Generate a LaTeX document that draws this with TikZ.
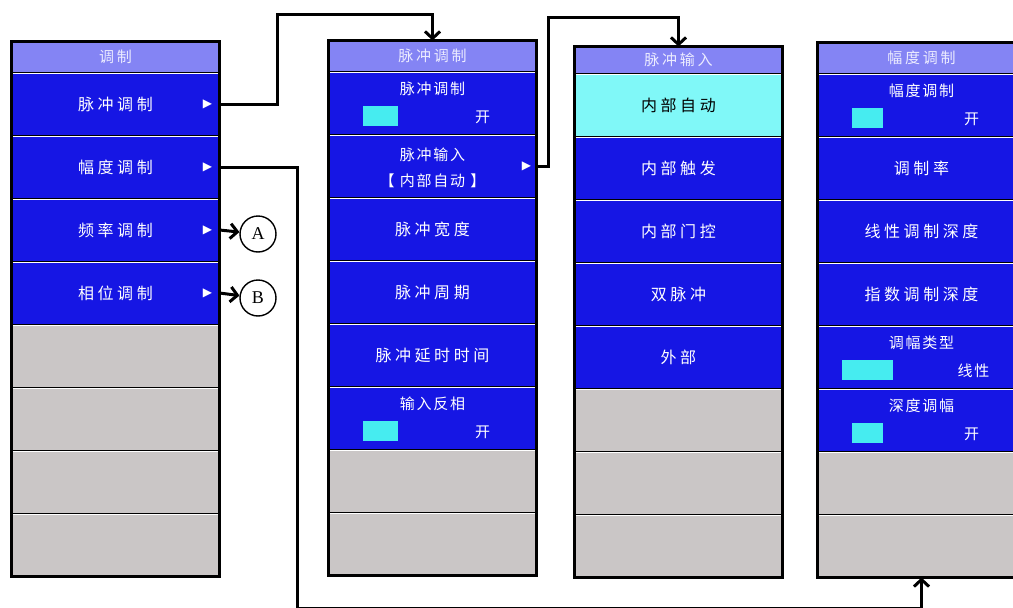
\documentclass[tikz,border=0pt]{standalone}
\usepackage{fontspec}
\usepackage{tikz}
\usetikzlibrary{positioning,arrows.meta}
\newfontfamily\cjk[LetterSpace=22]{Noto Sans CJK SC}
\newfontfamily\cjksub[LetterSpace=12]{Noto Sans CJK SC}
\newfontfamily\cjkhd[LetterSpace=18]{Noto Sans CJK SC}
\newfontfamily\symf{DejaVu Sans}
\newfontfamily\lettf{Liberation Serif}
\definecolor{btnblue}{RGB}{22,22,228}
\definecolor{hdrblue}{RGB}{132,132,244}
\definecolor{hdrtext}{RGB}{236,236,255}
\definecolor{btngray}{RGB}{202,198,198}
\definecolor{selcyan}{RGB}{128,248,248}
\definecolor{togcyan}{RGB}{70,236,240}

\tikzset{
  hdr/.style={rectangle, fill=hdrblue, minimum width=208pt, minimum height=31pt, inner sep=0pt, outer sep=0pt, text=hdrtext, font=\cjkhd\fontsize{15}{15}\selectfont},
  btn/.style={rectangle, fill=btnblue, draw=black, line width=1pt, minimum width=208pt, minimum height=63pt, inner sep=0pt, outer sep=0pt, text=white, font=\cjk\fontsize{16}{16}\selectfont,
    path picture={\draw[white, line width=3pt] (path picture bounding box.north west) -- (path picture bounding box.north east);}},
  graybtn/.style={btn, fill=btngray},
  selbtn/.style={btn, fill=selcyan, text=black},
  sub/.style={text=white, inner sep=0pt, font=\cjksub\fontsize{15}{15}\selectfont},
  tog/.style={rectangle, fill=togcyan, minimum width=31pt, minimum height=20pt, inner sep=0pt},
  tri/.style={text=white, inner sep=0pt, font=\symf\fontsize{12}{12}\selectfont},
  frame/.style={draw=black, line width=3.5pt},
  letter/.style={circle, draw=black, line width=1.4pt, minimum size=36pt, inner sep=0pt, font=\lettf\fontsize{18}{18}\selectfont},
  link/.style={draw=black, line width=3pt}
}

\begin{document}
\begin{tikzpicture}[x=1pt, y=-1pt, node distance=0pt, >={Straight Barb[length=7pt,width=15pt]}]
  \useasboundingbox (0,0) rectangle (1013,608);

  % menu 1
  \node (h1) [hdr] at (115.5,57) {调制};
  \node (pm1) [btn, below=of h1] {脉冲调制};
  \node (am1) [btn, below=of pm1] {幅度调制};
  \node (fm1) [btn, below=of am1] {频率调制};
  \node (ph1) [btn, below=of fm1] {相位调制};
  \node (g1a) [graybtn, below=of ph1] {};
  \node (g1b) [graybtn, below=of g1a] {};
  \node (g1c) [graybtn, below=of g1b] {};
  \node (g1d) [graybtn, below=of g1c] {};
  \draw[frame] (h1.north west) rectangle (g1d.south east);
  \node [tri] at ([xshift=-12pt]pm1.east) {▶};
  \node [tri] at ([xshift=-12pt]am1.east) {▶};
  \node [tri] at ([xshift=-12pt]fm1.east) {▶};
  \node [tri] at ([xshift=-12pt]ph1.east) {▶};

  % menu 2
  \node (h2) [hdr] at (432.5,56) {脉冲调制};
  \node (pm2) [btn, below=of h2] {};
  \node (in2) [btn, below=of pm2] {};
  \node (wd2) [btn, below=of in2] {脉冲宽度};
  \node (pd2) [btn, below=of wd2] {脉冲周期};
  \node (dl2) [btn, below=of pd2] {脉冲延时时间};
  \node (iv2) [btn, below=of dl2] {};
  \node (g2a) [graybtn, below=of iv2] {};
  \node (g2b) [graybtn, below=of g2a] {};
  \draw[frame] (h2.north west) rectangle (g2b.south east);
  \node (pm2t) [sub] at ([yshift=14pt]pm2.center) {脉冲调制};
  \node (pm2s) [tog, minimum width=35pt] at ([xshift=-52pt,yshift=-13pt]pm2.center) {};
  \node (pm2v) [sub] at ([xshift=50pt,yshift=-14pt]pm2.center) {开};
  \node (in2t) [sub] at ([yshift=11pt]in2.center) {脉冲输入};
  \node (in2v) [sub] at ([yshift=-15pt]in2.center) {【 内部自动 】};
  \node [tri] at ([xshift=-10pt]in2.east) {▶};
  \node (iv2t) [sub] at ([yshift=14pt]iv2.center) {输入反相};
  \node (iv2s) [tog, minimum width=35pt] at ([xshift=-52pt,yshift=-13pt]iv2.center) {};
  \node (iv2v) [sub] at ([xshift=50pt,yshift=-14pt]iv2.center) {开};

  % menu 3
  \node (h3) [hdr, minimum height=27pt] at (678.5,60) {脉冲输入};
  \node (ia3) [selbtn, below=of h3] {内部自动};
  \node (it3) [btn, below=of ia3] {内部触发};
  \node (ig3) [btn, below=of it3] {内部门控};
  \node (dp3) [btn, below=of ig3] {双脉冲};
  \node (ex3) [btn, below=of dp3] {外部};
  \node (g3a) [graybtn, below=of ex3] {};
  \node (g3b) [graybtn, below=of g3a] {};
  \node (g3c) [graybtn, below=of g3b] {};
  \draw[frame] (h3.north west) rectangle (g3c.south east);

  % menu 4
  \node (h4) [hdr] at (921.5,58) {幅度调制};
  \node (am4) [btn, below=of h4] {};
  \node (rt4) [btn, below=of am4] {调制率};
  \node (ld4) [btn, below=of rt4] {线性调制深度};
  \node (ed4) [btn, below=of ld4] {指数调制深度};
  \node (ty4) [btn, below=of ed4] {};
  \node (dm4) [btn, below=of ty4] {};
  \node (g4a) [graybtn, below=of dm4] {};
  \node (g4b) [graybtn, below=of g4a] {};
  \draw[frame] (h4.north west) rectangle (g4b.south east);
  \node (am4t) [sub] at ([yshift=14pt]am4.center) {幅度调制};
  \node (am4s) [tog] at ([xshift=-54pt,yshift=-13pt]am4.center) {};
  \node (am4v) [sub] at ([xshift=50pt,yshift=-14pt]am4.center) {开};
  \node (ty4t) [sub] at ([yshift=14pt]ty4.center) {调幅类型};
  \node (ty4s) [tog, minimum width=51pt] at ([xshift=-54pt,yshift=-13pt]ty4.center) {};
  \node (ty4v) [sub] at ([xshift=52pt,yshift=-14pt]ty4.center) {线性};
  \node (dm4t) [sub] at ([yshift=14pt]dm4.center) {深度调幅};
  \node (dm4s) [tog] at ([xshift=-54pt,yshift=-13pt]dm4.center) {};
  \node (dm4v) [sub] at ([xshift=50pt,yshift=-14pt]dm4.center) {开};

  % off-page marks
  \node (A) [letter] at (258,234) {A};
  \node (B) [letter] at (258,298) {B};

  % links
  \draw[link, ->] (pm1.east) -- ++(58,0) -- ++(0,-90) -| (h2.north);
  \draw[link, ->] (in2.east) -- ++(12,0) -- ++(0,-149) -| (h3.north);
  \draw[link, ->] (am1.east) -- ++(78,0) -- ++(0,441) -| (g4b.south);
  \draw[link, ->] (fm1.east) -- (A);
  \draw[link, ->] (ph1.east) -- (B);
\end{tikzpicture}
\end{document}
